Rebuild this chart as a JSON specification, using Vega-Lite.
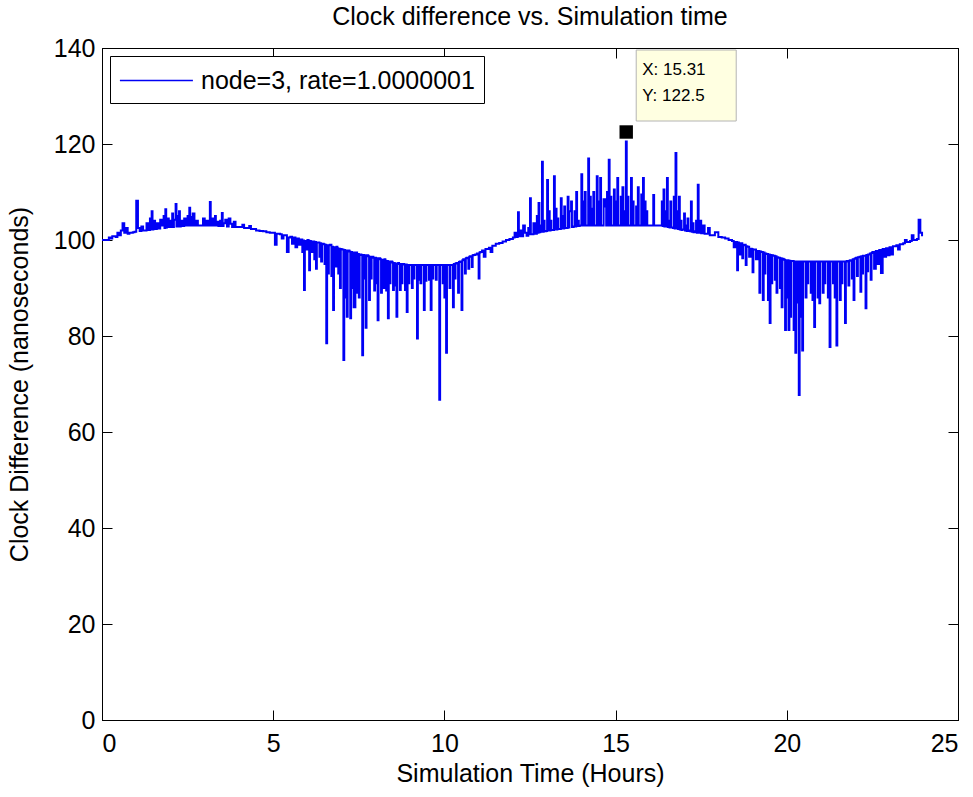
{
"$schema":"https://vega.github.io/schema/vega-lite/v6.json",
"autosize":"none",
"padding":{"left":102,"top":48,"right":15,"bottom":77},
"width":856,"height":672,
"background":"white",
"title":{"text":"Clock difference vs. Simulation time","fontSize":25,"fontWeight":"normal","font":"Liberation Sans","color":"black","offset":6,"anchor":"middle"},
"config":{
"view":{"stroke":"black","strokeWidth":1},
"axis":{"labelFont":"Liberation Sans","labelFontSize":25,"labelColor":"black","titleFont":"Liberation Sans","titleFontSize":25,"titleFontWeight":"normal","titleColor":"black","tickColor":"black","tickSize":-10,"tickWidth":1,"domainColor":"black","domainWidth":1,"grid":false},
"legend":{"labelFont":"Liberation Sans","labelColor":"black"}
},
"datasets":{
"clock":[
{"t":0,"v":100},{"t":0.1,"v":100},{"t":0.2,"v":100.5},{"t":0.25,"v":100.3},{"t":0.3,"v":100.8},{"t":0.4,"v":100.6},{"t":0.45,"v":101.5},{"t":0.5,"v":101},{"t":0.55,"v":102},{"t":0.6,"v":103.5},{"t":0.65,"v":101.5},{"t":0.7,"v":102.5},{"t":0.75,"v":101.3},{"t":0.8,"v":101.5},{"t":0.9,"v":101.6},{"t":0.95,"v":101.7},
{"t":1.0,"v":108.2},{"t":1.05,"v":102.5},{"t":1.1,"v":101.9},{"t":1.15,"v":102.8},{"t":1.2,"v":102},{"t":1.3,"v":103.5},{"t":1.35,"v":102.1},{"t":1.4,"v":104.5},{"t":1.45,"v":106},{"t":1.5,"v":104},{"t":1.55,"v":102.3},{"t":1.6,"v":103.5},{"t":1.65,"v":102.4},{"t":1.7,"v":104.2},{"t":1.75,"v":103},{"t":1.8,"v":105},{"t":1.85,"v":106.4},{"t":1.9,"v":104.5},{"t":1.95,"v":102.7},
{"t":2.0,"v":104},{"t":2.05,"v":105.5},{"t":2.1,"v":104.2},{"t":2.15,"v":107.5},{"t":2.2,"v":105},{"t":2.25,"v":106},{"t":2.3,"v":104},{"t":2.35,"v":102.9},{"t":2.4,"v":104.5},{"t":2.45,"v":103},{"t":2.5,"v":105},{"t":2.55,"v":106.7},{"t":2.6,"v":104.8},{"t":2.65,"v":105.5},{"t":2.7,"v":103},{"t":2.75,"v":104},{"t":2.8,"v":103},{"t":2.95,"v":104.5},
{"t":3.0,"v":103},{"t":3.05,"v":104},{"t":3.1,"v":103},{"t":3.15,"v":107.9},{"t":3.2,"v":104.5},{"t":3.25,"v":103},{"t":3.3,"v":105},{"t":3.35,"v":103.8},{"t":3.4,"v":102.9},{"t":3.45,"v":104},{"t":3.5,"v":105.6},{"t":3.55,"v":103.5},{"t":3.6,"v":104.2},{"t":3.65,"v":102.8},{"t":3.7,"v":104.5},{"t":3.75,"v":103.4},{"t":3.8,"v":102.7},{"t":3.85,"v":103.8},{"t":3.9,"v":102.7},
{"t":4.1,"v":103.2},{"t":4.15,"v":102.5},{"t":4.3,"v":102.9},{"t":4.35,"v":102.3},{"t":4.5,"v":102},{"t":4.6,"v":101.9},{"t":4.7,"v":101.8},{"t":4.8,"v":101.6},{"t":4.9,"v":101.5},
{"t":5.0,"v":101.5},{"t":5.05,"v":99},{"t":5.1,"v":101.3},{"t":5.2,"v":101.2},{"t":5.25,"v":100.3},{"t":5.3,"v":101},{"t":5.4,"v":97.5},{"t":5.45,"v":100.5},{"t":5.5,"v":100.7},{"t":5.55,"v":99.2},{"t":5.6,"v":100.5},{"t":5.65,"v":98.5},{"t":5.7,"v":100.3},{"t":5.75,"v":99},{"t":5.8,"v":100.1},{"t":5.85,"v":97.5},{"t":5.9,"v":89.6},{"t":5.95,"v":98},
{"t":6.0,"v":100},{"t":6.05,"v":93.7},{"t":6.1,"v":97.5},{"t":6.15,"v":99.7},{"t":6.2,"v":96},{"t":6.25,"v":94},{"t":6.3,"v":99.5},{"t":6.35,"v":96.5},{"t":6.4,"v":95.5},{"t":6.45,"v":99.2},{"t":6.5,"v":95},{"t":6.55,"v":78.5},{"t":6.6,"v":93},{"t":6.65,"v":99},{"t":6.7,"v":92.5},{"t":6.75,"v":85.4},{"t":6.8,"v":94.5},{"t":6.85,"v":98.6},{"t":6.9,"v":93},{"t":6.95,"v":90},
{"t":7.0,"v":98},{"t":7.05,"v":75},{"t":7.1,"v":88},{"t":7.15,"v":84},{"t":7.2,"v":97.8},{"t":7.25,"v":83.7},{"t":7.3,"v":90},{"t":7.35,"v":86},{"t":7.4,"v":97.4},{"t":7.45,"v":89},{"t":7.5,"v":88},{"t":7.55,"v":97},{"t":7.6,"v":76},{"t":7.65,"v":92},{"t":7.7,"v":81.7},{"t":7.75,"v":96.8},{"t":7.8,"v":87.5},{"t":7.85,"v":92},{"t":7.9,"v":96.5},{"t":7.95,"v":89.5},
{"t":8.0,"v":91},{"t":8.05,"v":83.3},{"t":8.1,"v":96.2},{"t":8.15,"v":89},{"t":8.2,"v":90},{"t":8.25,"v":96},{"t":8.3,"v":89.5},{"t":8.35,"v":83.7},{"t":8.4,"v":91},{"t":8.45,"v":95.5},{"t":8.5,"v":89.6},{"t":8.55,"v":90.5},{"t":8.6,"v":84},{"t":8.65,"v":95.2},{"t":8.7,"v":89.6},{"t":8.75,"v":91},{"t":8.8,"v":95},{"t":8.85,"v":89.6},{"t":8.9,"v":85},{"t":8.95,"v":91},
{"t":9.0,"v":94.8},{"t":9.05,"v":90},{"t":9.1,"v":92},{"t":9.15,"v":94.8},{"t":9.2,"v":79.5},{"t":9.25,"v":91.7},{"t":9.3,"v":91},{"t":9.35,"v":94.8},{"t":9.4,"v":85.4},{"t":9.45,"v":91.5},{"t":9.5,"v":94.8},{"t":9.55,"v":91.7},{"t":9.6,"v":85.4},{"t":9.65,"v":92},{"t":9.7,"v":94.8},{"t":9.75,"v":91.7},{"t":9.8,"v":94.8},{"t":9.85,"v":66.7},{"t":9.9,"v":94.8},{"t":9.95,"v":91},
{"t":10.0,"v":88},{"t":10.05,"v":76.5},{"t":10.1,"v":94.8},{"t":10.15,"v":90},{"t":10.2,"v":94.8},{"t":10.25,"v":86},{"t":10.3,"v":92},{"t":10.35,"v":95.2},{"t":10.4,"v":89},{"t":10.45,"v":95.5},{"t":10.5,"v":85.4},{"t":10.55,"v":96},{"t":10.6,"v":93},{"t":10.65,"v":96.3},{"t":10.7,"v":94},{"t":10.75,"v":96.6},{"t":10.8,"v":94.4},{"t":10.85,"v":96.9},{"t":10.9,"v":97},{"t":10.95,"v":97.2},
{"t":11.0,"v":92},{"t":11.05,"v":97.5},{"t":11.1,"v":97.8},{"t":11.15,"v":96.5},{"t":11.2,"v":98.1},{"t":11.3,"v":98.4},{"t":11.35,"v":97.5},{"t":11.4,"v":98.8},{"t":11.5,"v":99.2},{"t":11.6,"v":99.4},{"t":11.7,"v":99.7},{"t":11.8,"v":100},{"t":11.9,"v":100.2},
{"t":12.0,"v":100.5},{"t":12.05,"v":101.5},{"t":12.1,"v":100.6},{"t":12.15,"v":105.8},{"t":12.2,"v":102},{"t":12.25,"v":100.8},{"t":12.3,"v":103},{"t":12.35,"v":101.5},{"t":12.4,"v":100.9},{"t":12.45,"v":102.5},{"t":12.5,"v":108.7},{"t":12.55,"v":101.2},{"t":12.6,"v":103.5},{"t":12.65,"v":101.3},{"t":12.7,"v":105},{"t":12.75,"v":107.7},{"t":12.8,"v":103},{"t":12.85,"v":116.3},{"t":12.9,"v":104},{"t":12.95,"v":101.8},
{"t":13.0,"v":112.5},{"t":13.05,"v":106},{"t":13.1,"v":104},{"t":13.15,"v":102.1},{"t":13.2,"v":113.3},{"t":13.25,"v":106.5},{"t":13.3,"v":104.5},{"t":13.35,"v":102.3},{"t":13.4,"v":108.7},{"t":13.45,"v":105},{"t":13.5,"v":107},{"t":13.55,"v":102.5},{"t":13.6,"v":109},{"t":13.65,"v":106},{"t":13.7,"v":108},{"t":13.75,"v":102.7},{"t":13.8,"v":106},{"t":13.85,"v":110},{"t":13.9,"v":104},{"t":13.95,"v":103},
{"t":14.0,"v":113.7},{"t":14.05,"v":108},{"t":14.1,"v":110},{"t":14.15,"v":103},{"t":14.2,"v":117},{"t":14.25,"v":109},{"t":14.3,"v":106.5},{"t":14.35,"v":110},{"t":14.4,"v":103},{"t":14.45,"v":113.3},{"t":14.5,"v":108},{"t":14.55,"v":112.9},{"t":14.6,"v":103},{"t":14.65,"v":108.5},{"t":14.7,"v":107},{"t":14.75,"v":110},{"t":14.8,"v":116.7},{"t":14.85,"v":109},{"t":14.9,"v":103},{"t":14.95,"v":110.5},
{"t":15.0,"v":108},{"t":15.05,"v":112.9},{"t":15.1,"v":103},{"t":15.15,"v":109},{"t":15.2,"v":111},{"t":15.25,"v":106},{"t":15.3,"v":120.5},{"t":15.35,"v":109},{"t":15.4,"v":103},{"t":15.45,"v":112.9},{"t":15.5,"v":108},{"t":15.55,"v":103},{"t":15.6,"v":107},{"t":15.65,"v":111},{"t":15.7,"v":103},{"t":15.75,"v":109.5},{"t":15.8,"v":112.9},{"t":15.85,"v":108},{"t":15.9,"v":106},{"t":15.95,"v":103},
{"t":16.1,"v":109.4},{"t":16.15,"v":103},{"t":16.35,"v":108},{"t":16.4,"v":110.5},{"t":16.45,"v":106},{"t":16.5,"v":112.9},{"t":16.55,"v":104},{"t":16.6,"v":108},{"t":16.65,"v":102.6},{"t":16.7,"v":109},{"t":16.75,"v":118.1},{"t":16.8,"v":106},{"t":16.85,"v":109},{"t":16.9,"v":104},{"t":16.95,"v":102.2},
{"t":17.0,"v":105.5},{"t":17.05,"v":103},{"t":17.1,"v":104.5},{"t":17.15,"v":102},{"t":17.2,"v":108},{"t":17.25,"v":103.5},{"t":17.3,"v":101.8},{"t":17.35,"v":104},{"t":17.4,"v":111.5},{"t":17.45,"v":104},{"t":17.5,"v":101.4},{"t":17.55,"v":103},{"t":17.6,"v":101.3},{"t":17.7,"v":102.5},{"t":17.75,"v":101},{"t":17.9,"v":101.6},
{"t":18.0,"v":100.6},{"t":18.1,"v":100.5},{"t":18.2,"v":100.3},{"t":18.3,"v":100},{"t":18.4,"v":99.8},{"t":18.45,"v":98.5},{"t":18.5,"v":99.6},{"t":18.55,"v":93.7},{"t":18.6,"v":97},{"t":18.65,"v":99.3},{"t":18.7,"v":96.2},{"t":18.75,"v":99},{"t":18.8,"v":94.8},{"t":18.85,"v":98.6},{"t":18.9,"v":96.5},{"t":18.95,"v":98.2},
{"t":19.0,"v":93.3},{"t":19.05,"v":98},{"t":19.1,"v":96},{"t":19.15,"v":97.7},{"t":19.2,"v":89},{"t":19.25,"v":97.5},{"t":19.3,"v":87.5},{"t":19.35,"v":93},{"t":19.4,"v":97.1},{"t":19.45,"v":87.5},{"t":19.5,"v":82.7},{"t":19.55,"v":91},{"t":19.6,"v":96.7},{"t":19.65,"v":91.7},{"t":19.7,"v":89},{"t":19.75,"v":96.3},{"t":19.8,"v":90},{"t":19.85,"v":86},{"t":19.9,"v":96},{"t":19.95,"v":81.25},
{"t":20.0,"v":88},{"t":20.05,"v":81.25},{"t":20.1,"v":84},{"t":20.15,"v":95.6},{"t":20.2,"v":81.25},{"t":20.25,"v":76.5},{"t":20.3,"v":87},{"t":20.35,"v":67.7},{"t":20.4,"v":84},{"t":20.45,"v":77},{"t":20.5,"v":95.5},{"t":20.55,"v":88},{"t":20.6,"v":91},{"t":20.65,"v":95.5},{"t":20.7,"v":89},{"t":20.75,"v":87.5},{"t":20.8,"v":81.9},{"t":20.85,"v":95.5},{"t":20.9,"v":88},{"t":20.95,"v":86.8},
{"t":21.0,"v":95.5},{"t":21.05,"v":89},{"t":21.1,"v":91},{"t":21.15,"v":95.5},{"t":21.2,"v":88},{"t":21.25,"v":77.7},{"t":21.3,"v":95.5},{"t":21.35,"v":91},{"t":21.4,"v":88},{"t":21.45,"v":78},{"t":21.5,"v":95.5},{"t":21.55,"v":87.5},{"t":21.6,"v":91},{"t":21.65,"v":95.5},{"t":21.7,"v":82.7},{"t":21.75,"v":95.6},{"t":21.8,"v":90.5},{"t":21.85,"v":95.8},{"t":21.9,"v":92},{"t":21.95,"v":87.5},
{"t":22.0,"v":96.2},{"t":22.05,"v":92.5},{"t":22.1,"v":96.4},{"t":22.15,"v":89.2},{"t":22.2,"v":93},{"t":22.25,"v":96.7},{"t":22.3,"v":85.8},{"t":22.35,"v":93.5},{"t":22.4,"v":97},{"t":22.45,"v":91.7},{"t":22.5,"v":97.5},{"t":22.55,"v":94},{"t":22.6,"v":97.7},{"t":22.65,"v":95},{"t":22.7,"v":97.9},{"t":22.75,"v":93.1},{"t":22.8,"v":98.1},{"t":22.85,"v":96.5},{"t":22.9,"v":98.3},{"t":22.95,"v":96.8},
{"t":23.0,"v":98.5},{"t":23.05,"v":97},{"t":23.1,"v":98.7},{"t":23.2,"v":98.9},{"t":23.25,"v":98},{"t":23.3,"v":99.1},{"t":23.4,"v":99.3},{"t":23.45,"v":100},{"t":23.5,"v":99.6},{"t":23.6,"v":99.8},{"t":23.65,"v":101},{"t":23.7,"v":100},{"t":23.8,"v":100.2},{"t":23.85,"v":104.2},{"t":23.9,"v":101.5},{"t":23.95,"v":100.8},
{"t":1.375,"v":102.1},{"t":1.425,"v":102.2},{"t":1.475,"v":102.2},{"t":1.825,"v":102.5},{"t":1.875,"v":102.6},{"t":2.025,"v":102.7},{"t":2.075,"v":102.7},{"t":2.175,"v":102.8},{"t":2.225,"v":102.8},{"t":2.275,"v":102.8},{"t":2.525,"v":103},{"t":2.575,"v":103},{"t":2.625,"v":103},{"t":3.175,"v":103},{"t":3.325,"v":103},{"t":3.475,"v":102.9},{"t":3.525,"v":102.9},
{"t":5.875,"v":99.9},{"t":5.925,"v":99.8},{"t":6.025,"v":99.9},{"t":6.075,"v":99.8},{"t":6.225,"v":99.6},{"t":6.275,"v":99.5},{"t":6.375,"v":99.3},{"t":6.425,"v":99.2},{"t":6.475,"v":99.1},
{"t":6.525,"v":99},{"t":6.575,"v":98.9},{"t":6.625,"v":98.9},{"t":6.725,"v":98.6},{"t":6.775,"v":98.5},{"t":6.875,"v":98.3},{"t":6.925,"v":98.2},{"t":6.975,"v":98.1},{"t":7.025,"v":98},{"t":7.075,"v":97.9},{"t":7.125,"v":97.8},{"t":7.175,"v":97.7},{"t":7.225,"v":97.6},{"t":7.275,"v":97.5},{"t":7.325,"v":97.4},{"t":7.475,"v":97.1},{"t":7.525,"v":97},{"t":7.575,"v":96.9},{"t":7.625,"v":96.9},{"t":7.675,"v":96.8},{"t":7.725,"v":96.7},{"t":7.775,"v":96.6},{"t":7.825,"v":96.5},{"t":7.875,"v":96.4},{"t":7.925,"v":96.3},{"t":7.975,"v":96.3},
{"t":8.025,"v":96.2},{"t":8.075,"v":96.1},{"t":8.125,"v":96},{"t":8.175,"v":95.9},{"t":8.275,"v":95.7},{"t":8.325,"v":95.6},{"t":8.375,"v":95.5},{"t":8.425,"v":95.4},{"t":8.475,"v":95.3},{"t":8.525,"v":95.2},{"t":8.575,"v":95.1},{"t":8.625,"v":95.1},{"t":8.675,"v":95},{"t":8.725,"v":95},{"t":8.775,"v":95},{"t":8.825,"v":94.9},{"t":8.875,"v":94.9},{"t":8.925,"v":94.8},{"t":8.975,"v":94.8},
{"t":9.025,"v":94.8},{"t":9.075,"v":94.8},{"t":9.125,"v":94.8},{"t":9.225,"v":94.8},{"t":9.275,"v":94.8},{"t":9.325,"v":94.8},{"t":9.425,"v":94.8},{"t":9.475,"v":94.8},{"t":9.575,"v":94.8},{"t":9.625,"v":94.8},{"t":9.675,"v":94.8},{"t":9.775,"v":94.8},{"t":9.875,"v":94.8},{"t":9.975,"v":94.8},{"t":10.025,"v":94.8},{"t":10.075,"v":94.8},{"t":10.175,"v":94.8},{"t":10.275,"v":95},{"t":10.325,"v":95.1},{"t":10.425,"v":95.4},{"t":10.525,"v":95.8},
{"t":10.575,"v":96},{"t":10.625,"v":96.2},{"t":10.725,"v":96.5},{"t":10.825,"v":96.8},{"t":11.025,"v":97.4},
{"t":12.125,"v":100.7},{"t":12.175,"v":100.8},{"t":12.475,"v":101.2},{"t":12.525,"v":101.2},{"t":12.725,"v":101.5},
{"t":12.775,"v":101.6},{"t":12.825,"v":101.7},{"t":12.875,"v":101.7},{"t":12.925,"v":101.8},{"t":12.975,"v":101.9},{"t":13.025,"v":102},{"t":13.075,"v":102},{"t":13.125,"v":102.1},{"t":13.175,"v":102.1},{"t":13.225,"v":102.2},{"t":13.275,"v":102.2},{"t":13.325,"v":102.3},{"t":13.375,"v":102.3},{"t":13.425,"v":102.4},{"t":13.475,"v":102.4},{"t":13.525,"v":102.5},{"t":13.575,"v":102.5},{"t":13.625,"v":102.6},{"t":13.725,"v":102.7},{"t":13.775,"v":102.8},{"t":13.825,"v":102.8},{"t":13.875,"v":102.9},{"t":13.925,"v":102.9},{"t":13.975,"v":103},
{"t":14.025,"v":103},{"t":14.075,"v":103},{"t":14.125,"v":103},{"t":14.175,"v":103},{"t":14.225,"v":103},{"t":14.275,"v":103},{"t":14.325,"v":103},{"t":14.375,"v":103},{"t":14.425,"v":103},{"t":14.475,"v":103},{"t":14.525,"v":103},{"t":14.575,"v":103},{"t":14.625,"v":103},{"t":14.725,"v":103},{"t":14.775,"v":103},{"t":14.825,"v":103},{"t":14.875,"v":103},{"t":14.925,"v":103},{"t":14.975,"v":103},
{"t":15.025,"v":103},{"t":15.075,"v":103},{"t":15.125,"v":103},{"t":15.175,"v":103},{"t":15.225,"v":103},{"t":15.275,"v":103},{"t":15.325,"v":103},{"t":15.375,"v":103},{"t":15.425,"v":103},{"t":15.475,"v":103},{"t":15.525,"v":103},{"t":15.575,"v":103},{"t":15.625,"v":103},{"t":15.675,"v":103},{"t":15.725,"v":103},{"t":15.775,"v":103},{"t":15.825,"v":103},{"t":15.875,"v":103},{"t":15.925,"v":103},
{"t":16.125,"v":103},{"t":16.375,"v":102.9},{"t":16.425,"v":102.8},{"t":16.475,"v":102.8},{"t":16.525,"v":102.7},{"t":16.575,"v":102.6},{"t":16.625,"v":102.6},{"t":16.675,"v":102.5},{"t":16.725,"v":102.4},{"t":16.775,"v":102.4},{"t":16.825,"v":102.3},{"t":16.875,"v":102.2},{"t":16.925,"v":102.1},{"t":17.025,"v":102},{"t":17.075,"v":101.9},{"t":17.125,"v":101.9},{"t":17.175,"v":101.8},{"t":17.225,"v":101.7},{"t":17.275,"v":101.6},{"t":17.325,"v":101.6},{"t":17.375,"v":101.5},{"t":17.425,"v":101.5},
{"t":18.575,"v":99.5},{"t":18.725,"v":98.9},{"t":18.825,"v":98.7},{"t":18.975,"v":98.1},{"t":19.025,"v":98},{"t":19.175,"v":97.7},{"t":19.225,"v":97.6},{"t":19.275,"v":97.5},{"t":19.325,"v":97.4},{"t":19.375,"v":97.2},{"t":19.425,"v":97.1},{"t":19.475,"v":97},{"t":19.525,"v":96.9},{"t":19.575,"v":96.8},{"t":19.625,"v":96.7},{"t":19.675,"v":96.6},{"t":19.725,"v":96.4},{"t":19.775,"v":96.3},{"t":19.825,"v":96.2},{"t":19.875,"v":96.1},{"t":19.925,"v":95.9},{"t":19.975,"v":95.8},
{"t":20.025,"v":95.8},{"t":20.075,"v":95.7},{"t":20.125,"v":95.6},{"t":20.175,"v":95.6},{"t":20.225,"v":95.5},{"t":20.275,"v":95.5},{"t":20.325,"v":95.5},{"t":20.375,"v":95.5},{"t":20.425,"v":95.5},{"t":20.475,"v":95.5},{"t":20.525,"v":95.5},{"t":20.575,"v":95.5},{"t":20.625,"v":95.5},{"t":20.675,"v":95.5},{"t":20.725,"v":95.5},{"t":20.775,"v":95.5},{"t":20.825,"v":95.5},{"t":20.875,"v":95.5},{"t":20.925,"v":95.5},{"t":20.975,"v":95.5},
{"t":21.025,"v":95.5},{"t":21.075,"v":95.5},{"t":21.125,"v":95.5},{"t":21.175,"v":95.5},{"t":21.225,"v":95.5},{"t":21.275,"v":95.5},{"t":21.325,"v":95.5},{"t":21.375,"v":95.5},{"t":21.425,"v":95.5},{"t":21.475,"v":95.5},{"t":21.525,"v":95.5},{"t":21.575,"v":95.5},{"t":21.625,"v":95.5},{"t":21.675,"v":95.5},{"t":21.725,"v":95.5},{"t":21.775,"v":95.6},{"t":21.825,"v":95.7},{"t":21.875,"v":95.8},{"t":21.925,"v":96},{"t":21.975,"v":96.1},
{"t":22.025,"v":96.3},{"t":22.075,"v":96.4},{"t":22.125,"v":96.5},{"t":22.175,"v":96.6},{"t":22.225,"v":96.7},{"t":22.325,"v":96.9},{"t":22.375,"v":97},{"t":22.425,"v":97.2},{"t":22.475,"v":97.3}
],
"tip":[{"t":15.31,"v":122.5,"label":"X: 15.31\nY: 122.5"}]
},
"layer":[
{"data":{"name":"clock"},
"mark":{"type":"line","interpolate":"step-after","strokeWidth":2,"clip":true,"color":"#0000f5"},
"encoding":{
"x":{"field":"t","type":"quantitative","scale":{"domain":[0,25],"nice":false},"axis":{"values":[0,5,10,15,20,25],"title":"Simulation Time (Hours)","titlePadding":5,"labelPadding":21}},
"y":{"field":"v","type":"quantitative","scale":{"domain":[0,140],"nice":false,"zero":false},"axis":{"values":[0,20,40,60,80,100,120,140],"title":"Clock Difference (nanoseconds)","titlePadding":21,"labelPadding":17}},
"color":{"datum":"node=3, rate=1.0000001","type":"nominal","scale":{"range":["#0000f5"]},"legend":{"title":null,"orient":"top-left","offset":8,"padding":9,"strokeColor":"black","fillColor":"white","cornerRadius":0,"symbolType":"M-1,0H4","symbolSize":853,"symbolStrokeWidth":1.5,"symbolFillColor":"transparent","labelFontSize":25,"labelOffset":51,"labelLimit":500}}
}},
{"data":{"name":"tip"},
"mark":{"type":"point","shape":"M0.1,-0.82L1.1,-0.82L1.1,-0.11L0.1,-0.11Z","size":40000,"filled":true,"fill":"#ffffe1","stroke":"#b4b4b4","strokeWidth":1,"opacity":1},
"encoding":{
"x":{"field":"t","type":"quantitative","axis":{"orient":"top","labels":false,"title":null,"values":[0,5,10,15,20,25]}},
"y":{"field":"v","type":"quantitative","axis":{"orient":"right","labels":false,"title":null,"values":[0,20,40,60,80,100,120,140]}}
}},
{"data":{"name":"tip"},
"mark":{"type":"text","align":"left","baseline":"top","dx":16,"dy":-70,"lineBreak":"\n","lineHeight":26,"fontSize":17,"font":"Liberation Sans","color":"black"},
"encoding":{
"x":{"field":"t","type":"quantitative","axis":null},
"y":{"field":"v","type":"quantitative","axis":null},
"text":{"field":"label"}
}},
{"data":{"name":"tip"},
"mark":{"type":"point","shape":"square","size":180,"filled":true,"color":"black","opacity":1},
"encoding":{
"x":{"field":"t","type":"quantitative","axis":null},
"y":{"field":"v","type":"quantitative","axis":null}
}}
],
"resolve":{"axis":{"x":"independent","y":"independent"}}
}
